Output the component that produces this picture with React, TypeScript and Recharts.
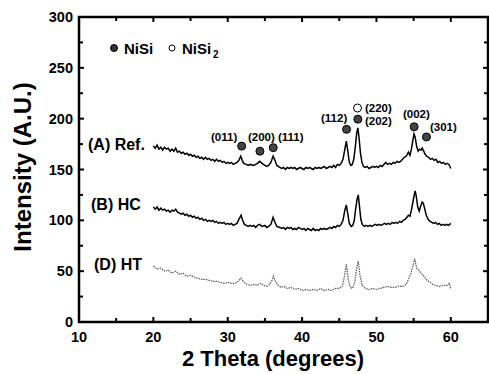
import { LineChart, Line, XAxis, YAxis, ReferenceDot } from "recharts";

// 2θ tick positions and intensity ticks
const angleTicks = [10, 15, 20, 25, 30, 35, 40, 45, 50, 55, 60, 65];
const intensityTicks = [0, 25, 50, 75, 100, 125, 150, 175, 200, 225, 250, 275, 300];

// (A) Ref. scan: [2θ, intensity]
const refScan: [number, number][] = [
    [20, 173], [20.25, 171], [20.5, 174], [20.75, 170], [21, 172], [21.25, 169], [21.5, 172], [21.75, 170],
    [22, 171], [22.25, 168], [22.5, 170], [22.75, 168], [23, 171], [23.25, 167], [23.5, 168], [23.75, 166],
    [24, 167], [24.25, 165], [24.5, 166], [24.75, 164], [25, 165], [25.25, 163], [25.5, 164], [25.75, 162],
    [26, 163], [26.25, 161], [26.5, 162], [26.75, 160], [27, 162], [27.25, 160], [27.5, 161], [27.75, 159],
    [28, 160], [28.25, 158], [28.5, 160], [28.75, 158], [29, 159], [29.25, 157], [29.5, 158], [29.75, 156],
    [30, 157], [30.25, 156], [30.5, 157], [30.75, 155], [31, 156], [31.25, 157], [31.5, 159], [31.75, 163],
    [31.95, 159], [32.15, 156], [32.5, 155], [32.75, 154], [33, 155], [33.5, 154], [33.75, 155], [34, 156],
    [34.3, 158], [34.6, 156], [35, 154], [35.25, 153], [35.5, 154], [35.8, 157], [36.1, 163], [36.3, 160],
    [36.6, 154], [37, 152], [37.25, 151], [37.5, 152], [37.75, 150], [38, 152], [38.25, 151], [38.5, 152],
    [38.75, 151], [39, 152], [39.25, 150], [39.5, 151], [39.75, 152], [40, 151], [40.25, 150], [40.5, 152],
    [40.75, 151], [41, 152], [41.25, 151], [41.5, 150], [41.75, 152], [42, 151], [42.25, 152], [42.5, 151],
    [42.75, 152], [43, 153], [43.25, 151], [43.5, 152], [43.75, 153], [44, 152], [44.25, 154], [44.5, 152],
    [44.75, 155], [45, 154], [45.25, 156], [45.5, 160], [45.75, 170], [45.95, 178], [46.15, 168], [46.35, 157],
    [46.55, 154], [46.75, 155], [46.95, 160], [47.15, 172], [47.35, 186], [47.5, 191], [47.65, 182], [47.85, 166],
    [48.05, 157], [48.25, 153], [48.5, 152], [48.75, 153], [49, 151], [49.25, 152], [49.5, 153], [49.75, 152],
    [50, 153], [50.25, 152], [50.5, 154], [50.75, 153], [51, 155], [51.25, 157], [51.5, 155], [51.75, 156],
    [52, 155], [52.25, 157], [52.5, 156], [52.75, 158], [53, 157], [53.25, 158], [53.5, 160], [53.75, 162],
    [54, 163], [54.3, 167], [54.5, 164], [54.7, 170], [54.9, 179], [55.05, 185], [55.2, 182], [55.4, 173],
    [55.6, 168], [55.8, 170], [56, 169], [56.15, 171], [56.35, 168], [56.55, 165], [56.75, 163], [57, 162],
    [57.25, 160], [57.5, 161], [57.75, 159], [58, 160], [58.25, 157], [58.5, 158], [58.75, 156], [59, 157],
    [59.25, 155], [59.5, 156], [59.75, 155], [60, 151],
];

// (B) HC scan
const hcScan: [number, number][] = [
    [20, 113], [20.25, 111], [20.5, 113], [20.75, 110], [21, 112], [21.25, 110], [21.5, 111], [21.75, 109],
    [22, 110], [22.25, 108], [22.5, 110], [22.75, 109], [23, 111], [23.25, 108], [23.5, 107], [23.75, 106],
    [24, 107], [24.25, 105], [24.5, 106], [24.75, 104], [25, 105], [25.25, 103], [25.5, 104], [25.75, 102],
    [26, 103], [26.25, 101], [26.5, 102], [26.75, 100], [27, 101], [27.25, 99], [27.5, 100], [27.75, 99],
    [28, 100], [28.25, 98], [28.5, 99], [28.75, 97], [29, 98], [29.25, 97], [29.5, 98], [29.75, 96],
    [30, 97], [30.25, 96], [30.5, 97], [30.75, 95], [31, 96], [31.25, 97], [31.5, 101], [31.8, 105],
    [32, 100], [32.25, 96], [32.5, 95], [32.75, 94], [33, 95], [33.25, 94], [33.5, 95], [33.75, 93],
    [34, 95], [34.3, 96], [34.6, 94], [35, 95], [35.25, 93], [35.5, 94], [35.8, 96], [36.1, 103],
    [36.3, 99], [36.6, 94], [37, 93], [37.25, 92], [37.5, 93], [37.75, 91], [38, 93], [38.25, 92],
    [38.5, 93], [38.75, 91], [39, 92], [39.25, 91], [39.5, 93], [39.75, 92], [40, 91], [40.25, 92],
    [40.5, 90], [40.75, 92], [41, 91], [41.25, 90], [41.5, 92], [41.75, 90], [42, 91], [42.25, 90],
    [42.5, 92], [42.75, 91], [43, 92], [43.25, 91], [43.5, 92], [43.75, 93], [44, 92], [44.25, 94],
    [44.5, 93], [44.75, 95], [45, 94], [45.25, 96], [45.5, 100], [45.75, 110], [45.95, 115], [46.15, 106],
    [46.35, 97], [46.6, 94], [46.8, 95], [47, 99], [47.2, 111], [47.4, 121], [47.55, 125], [47.7, 115],
    [47.9, 101], [48.1, 96], [48.35, 94], [48.6, 95], [48.85, 94], [49.1, 95], [49.35, 94], [49.6, 95],
    [49.85, 96], [50.1, 95], [50.35, 96], [50.6, 95], [50.85, 96], [51.1, 97], [51.35, 96], [51.6, 97],
    [51.85, 96], [52.1, 98], [52.35, 97], [52.6, 98], [52.85, 97], [53.1, 99], [53.35, 98], [53.6, 100],
    [53.85, 101], [54.1, 103], [54.3, 105], [54.5, 104], [54.7, 110], [54.95, 120], [55.2, 129], [55.35, 124],
    [55.55, 113], [55.75, 109], [55.95, 114], [56.15, 118], [56.3, 117], [56.5, 111], [56.7, 105], [56.95, 101],
    [57.2, 99], [57.45, 98], [57.7, 97], [57.95, 98], [58.2, 96], [58.45, 97], [58.7, 95], [58.95, 96],
    [59.2, 95], [59.45, 96], [59.7, 95], [60, 97],
];

// (D) HT scan
const htScan: [number, number][] = [
    [20, 55], [20.5, 52], [21, 53], [21.5, 50], [22, 51], [22.5, 48], [23, 50], [23.5, 47],
    [24, 48], [24.5, 45], [25, 46], [25.5, 44], [26, 43], [26.5, 42], [27, 42], [27.5, 41],
    [28, 40], [28.5, 40], [29, 39], [29.5, 38], [30, 39], [30.5, 38], [31, 38], [31.4, 40],
    [31.8, 43], [32.2, 39], [32.6, 37], [33, 36], [33.5, 37], [34, 36], [34.4, 38], [34.8, 36],
    [35.2, 35], [35.6, 37], [35.9, 40], [36.15, 45], [36.4, 40], [36.8, 36], [37.2, 34], [37.6, 35],
    [38, 33], [38.5, 34], [39, 32], [39.5, 33], [40, 31], [40.5, 32], [41, 31], [41.5, 32],
    [42, 31], [42.5, 33], [43, 31], [43.5, 32], [44, 31], [44.5, 33], [45, 33], [45.4, 35],
    [45.7, 45], [45.95, 57], [46.2, 42], [46.5, 34], [46.8, 33], [47.1, 40], [47.35, 53], [47.55, 60],
    [47.8, 45], [48.1, 36], [48.5, 33], [49, 32], [49.5, 33], [50, 32], [50.5, 33], [51, 34],
    [51.5, 35], [52, 34], [52.5, 34], [53, 35], [53.5, 35], [54, 37], [54.3, 42], [54.6, 47],
    [54.9, 55], [55.15, 62], [55.4, 53], [55.7, 51], [56, 48], [56.4, 45], [56.8, 41], [57.2, 39],
    [57.6, 37], [58, 36], [58.5, 35], [59, 36], [59.5, 36], [59.8, 38], [60, 32],
];

// phase markers above the peaks: [2θ, intensity, NiSi (filled) or NiSi2 (open)]
const peakMarkers: [number, number, boolean][] = [
    [31.87, 173, true], [34.33, 168, true], [36.12, 171.5, true], [45.98, 189.5, true],
    [47.45, 210.5, false], [47.5, 199.5, true], [55.07, 192, true], [56.73, 182, true],
];

const toRows = (scan: [number, number][]) =>
    scan.map(([angle, intensity]) => ({ angle, intensity }));

const font = "'Liberation Sans', Arial, sans-serif";

// plot box (px) — the frame is drawn around it
const PLOT = { left: 79, top: 17, right: 488, bottom: 322 };

// bottom axis tick: inward mark at bottom and top, label every 10°
const AngleTick = (props: any) => {
    const { x, payload } = props;
    const v = payload.value as number;
    const major = v % 10 === 0;
    const len = major ? 5 : 4;
    return (
        <g>
            <line x1={x} x2={x} y1={PLOT.bottom} y2={PLOT.bottom - len} stroke="#000" strokeWidth={2} />
            <line x1={x} x2={x} y1={PLOT.top} y2={PLOT.top + len} stroke="#000" strokeWidth={2} />
            {major && v < 65 && (
                <text x={x} y={PLOT.bottom + 20} textAnchor="middle" fill="#000" fontSize={14.5} fontWeight="bold" fontFamily={font}>
                    {v}
                </text>
            )}
        </g>
    );
};

// left axis tick: inward mark at left and right, label every 50
const IntensityTick = (props: any) => {
    const { y, payload } = props;
    const v = payload.value as number;
    const major = v % 50 === 0;
    const len = major ? 5 : 4;
    return (
        <g>
            <line x1={PLOT.left} x2={PLOT.left + len} y1={y} y2={y} stroke="#000" strokeWidth={2} />
            <line x1={PLOT.right} x2={PLOT.right - len} y1={y} y2={y} stroke="#000" strokeWidth={2} />
            {major && (
                <text x={PLOT.left - 6} y={y + 5} textAnchor="end" fill="#000" fontSize={14.5} fontWeight="bold" fontFamily={font}>
                    {v}
                </text>
            )}
        </g>
    );
};

const App = () => {
    return (
        <div style={{ position: "absolute", left: 0, top: 0, width: 489, height: 374, background: "#fff" }}>
            <LineChart width={489} height={374} margin={{ top: PLOT.top, right: 489 - PLOT.right, bottom: 0, left: 0 }}>
                <XAxis
                    type="number"
                    dataKey="angle"
                    domain={[10, 65]}
                    ticks={angleTicks}
                    interval={0}
                    height={374 - PLOT.bottom}
                    axisLine={false}
                    tickLine={false}
                    tick={<AngleTick />}
                    allowDataOverflow
                />
                <YAxis
                    type="number"
                    domain={[0, 300]}
                    ticks={intensityTicks}
                    interval={0}
                    width={PLOT.left}
                    axisLine={false}
                    tickLine={false}
                    tick={<IntensityTick />}
                    allowDataOverflow
                />

                <Line data={toRows(refScan)} dataKey="intensity" type="linear" stroke="#000" strokeWidth={1.5} dot={false} isAnimationActive={false} />
                <Line data={toRows(hcScan)} dataKey="intensity" type="linear" stroke="#000" strokeWidth={1.5} dot={false} isAnimationActive={false} />
                <Line data={toRows(htScan)} dataKey="intensity" type="linear" stroke="#555" strokeWidth={1.2} strokeDasharray="1.5 1" dot={false} isAnimationActive={false} />

                {peakMarkers.map(([a, i, filled], k) => (
                    <ReferenceDot
                        key={k}
                        x={a}
                        y={i}
                        r={4}
                        fill={filled ? "#444" : "#fff"}
                        stroke="#000"
                        strokeWidth={1}
                        ifOverflow="visible"
                    />
                ))}
            </LineChart>

            <svg width={489} height={374} style={{ position: "absolute", left: 0, top: 0, pointerEvents: "none" }}>
                <rect
                    x={PLOT.left}
                    y={PLOT.top}
                    width={PLOT.right - PLOT.left}
                    height={PLOT.bottom - PLOT.top}
                    fill="none"
                    stroke="#000"
                    strokeWidth={2.5}
                />
                <g fontFamily={font} fontWeight="bold" fill="#000">
                    {/* legend */}
                    <circle cx={114} cy={48} r={3.5} fill="#333" stroke="#000" />
                    <text x={124} y={54} fontSize={15}>NiSi</text>
                    <circle cx={172} cy={48} r={3} fill="#fff" stroke="#000" />
                    <text x={182} y={54} fontSize={15}>NiSi</text>
                    <text x={213} y={58} fontSize={10}>2</text>

                    {/* sample labels */}
                    <text x={88} y={150} fontSize={16}>(A) Ref.</text>
                    <text x={91} y={210} fontSize={16}>(B) HC</text>
                    <text x={94} y={270} fontSize={16}>(D) HT</text>

                    {/* reflections */}
                    <g fontSize={11.5}>
                        <text x={211} y={141}>(011)</text>
                        <text x={248} y={141}>(200)</text>
                        <text x={278} y={141}>(111)</text>
                        <text x={321} y={122}>(112)</text>
                        <text x={365} y={112}>(220)</text>
                        <text x={365} y={125}>(202)</text>
                        <text x={403} y={118}>(002)</text>
                        <text x={430} y={131}>(301)</text>
                    </g>

                    {/* axis titles */}
                    <text x={273} y={366} fontSize={22} textAnchor="middle">2 Theta (degrees)</text>
                    <text transform="translate(31,167) rotate(-90)" fontSize={24} textAnchor="middle">Intensity (A.U.)</text>
                </g>
            </svg>
        </div>
    );
};

export default App;
